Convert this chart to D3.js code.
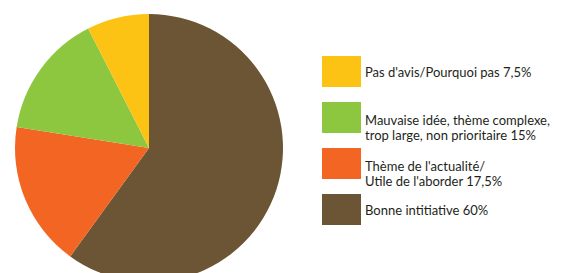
<!DOCTYPE html>
<html>
<head>
<meta charset="utf-8">
<script src="https://cdn.jsdelivr.net/npm/d3@7.9.0/dist/d3.min.js"></script>
<style>
  body { margin: 0; background: #fff; }
  text { font-family: Lato, "Open Sans", sans-serif; fill: #231f20; }
</style>
</head>
<body>
<svg width="569" height="273"></svg>
<script>
// slices, clockwise from the top
const labels = [
  ['Bonne intitiative 60%'],
  ["Thème de l'actualité/", "Utile de l'aborder 17,5%"],
  ['Mauvaise idée, thème complexe,', 'trop large, non prioritaire 15%'],
  ["Pas d'avis/Pourquoi pas 7,5%"]
];
const values = [60, 17.5, 15, 7.5];
const colors = ['#6b5534', '#f26522', '#8dc63f', '#fdc314'];

// legend goes top to bottom in reverse order
const legendOrder = [3, 2, 1, 0];

let svg = d3.select('svg');

let pie = d3.pie().sort(null).value((d) => d);
let arcGenerator = d3.arc().innerRadius(0).outerRadius(134);

let g = svg.append('g').attr('transform', 'translate(149,148)');
g.selectAll('path')
  .data(pie(values))
  .join('path')
  .attr('d', arcGenerator)
  .attr('fill', (d, i) => colors[i]);

let legend = svg.append('g').attr('transform', 'translate(322,56)');
legendOrder.forEach((idx, row) => {
  let item = legend.append('g').attr('transform', `translate(0,${row * 46})`);
  item.append('rect')
    .attr('width', 39)
    .attr('height', 31)
    .attr('fill', colors[idx]);
  let lines = labels[idx];
  let startY = lines.length === 1 ? 20.5 : 23;
  lines.forEach((line, j) => {
    item.append('text')
      .attr('x', 43)
      .attr('y', startY + j * 15)
      .attr('font-size', 13)
      .text(line);
  });
});
</script>
</body>
</html>
